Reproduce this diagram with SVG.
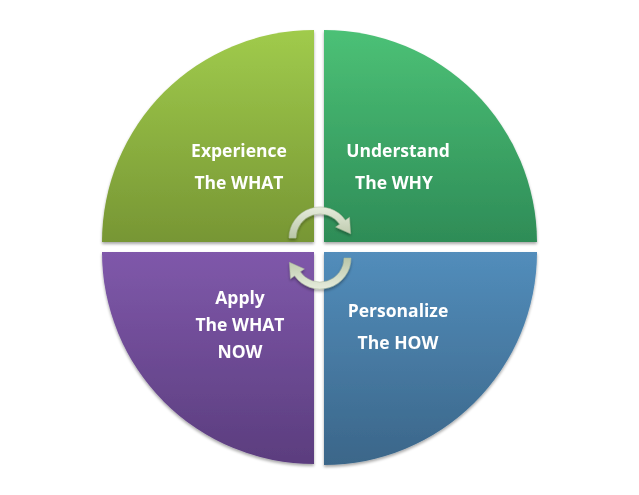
<svg xmlns="http://www.w3.org/2000/svg" width="639" height="495" viewBox="0 0 639 495">
<defs>
<linearGradient id="gTL" x1="0" y1="0" x2="0" y2="1"><stop offset="0" stop-color="#a0cb4c"/><stop offset="1" stop-color="#779634"/></linearGradient>
<linearGradient id="gTR" x1="0" y1="0" x2="0" y2="1"><stop offset="0" stop-color="#4cc176"/><stop offset="1" stop-color="#2e8c57"/></linearGradient>
<linearGradient id="gBL" x1="0" y1="0" x2="0" y2="1"><stop offset="0" stop-color="#7f58aa"/><stop offset="1" stop-color="#5b3d7e"/></linearGradient>
<linearGradient id="gBR" x1="0" y1="0" x2="0" y2="1"><stop offset="0" stop-color="#528dbb"/><stop offset="1" stop-color="#3b6689"/></linearGradient>
<linearGradient id="gA" x1="0" y1="0" x2="0" y2="1"><stop offset="0" stop-color="#e6ecdc"/><stop offset="1" stop-color="#b9c6a8"/></linearGradient>
<filter id="sh" x="-10%" y="-10%" width="120%" height="120%"><feGaussianBlur in="SourceAlpha" stdDeviation="1.5"/><feOffset dx="0" dy="2" result="b"/><feComponentTransfer><feFuncA type="linear" slope="0.35"/></feComponentTransfer><feMerge><feMergeNode/><feMergeNode in="SourceGraphic"/></feMerge></filter>
</defs>
<style>
.t{font-family:"Open Sans","Liberation Sans",sans-serif;font-weight:bold;font-size:17.5px;fill:#ffffff;text-anchor:middle}
.arr{fill:url(#gA);stroke:#aab89a;stroke-width:0.5}
</style>
<g id="experience" filter="url(#sh)">
<path d="M314,242 L102,242 A212,212 0 0 1 314,30 Z" fill="url(#gTL)"/>
<text class="t" x="239" y="157">Experience</text>
<text class="t" x="239" y="189">The WHAT</text>
</g>
<g id="understand" filter="url(#sh)">
<path d="M324,242 L324,30 A213,213 0 0 1 537,242 Z" fill="url(#gTR)"/>
<text class="t" x="398" y="157">Understand</text>
<text class="t" x="394" y="189">The WHY</text>
</g>
<g id="apply" filter="url(#sh)">
<path d="M314,252 L314,464 A212,212 0 0 1 102,252 Z" fill="url(#gBL)"/>
<text class="t" x="240" y="304">Apply</text>
<text class="t" x="240" y="331">The WHAT</text>
<text class="t" x="240" y="358">NOW</text>
</g>
<g id="personalize" filter="url(#sh)">
<path d="M324,252 L537,252 A213,213 0 0 1 324,465 Z" fill="url(#gBR)"/>
<text class="t" x="398" y="317">Personalize</text>
<text class="t" x="398" y="349">The HOW</text>
</g>
<g id="connectors" filter="url(#sh)">
<path class="arr" d="M296,238 A24,24 0 0 1 339.7,224.2 L335.6,227.1 L350.6,233.7 L349.5,217.3 L345.4,220.2 A31,31 0 0 0 289,238 Z"/>
<path class="arr" transform="rotate(180 320 248)" d="M296,238 A24,24 0 0 1 339.7,224.2 L335.6,227.1 L350.6,233.7 L349.5,217.3 L345.4,220.2 A31,31 0 0 0 289,238 Z"/>
</g>
</svg>
